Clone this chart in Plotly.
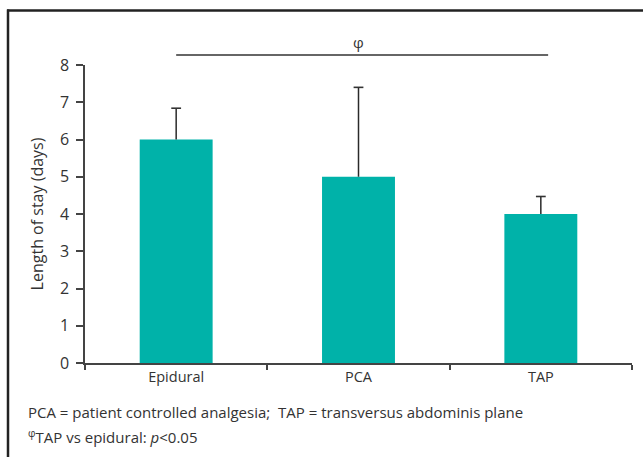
import plotly.graph_objects as go

categories = ["Epidural", "PCA", "TAP"]
values = [6.0, 5.0, 4.0]
errors_plus = [0.84, 2.4, 0.47]
y_ticks = [0, 1, 2, 3, 4, 5, 6, 7, 8]
sig_from = 0      # Epidural
sig_to = 2.04     # TAP (line extends slightly past)
sig_label = "φ"
y_title = "Length of stay (days)"
footnote1 = "PCA = patient controlled analgesia;  TAP = transversus abdominis plane"
footnote2 = "<sup>φ</sup>TAP vs epidural: <i>p</i>&lt;0.05"

TEAL = "#00B2A9"
TXT = "#333333"
AX = "#444444"
FONT = "Open Sans"

W, H = 643, 457
ML, MR, MT, MB = 85, 11, 65, 94
pw, ph = W - ML - MR, H - MT - MB

def px_x(px):
    return (px - ML) / pw

def px_y(py):
    return (H - MB - py) / ph

def cat_paper(v):
    return (v + 0.5) / len(categories)

fig = go.Figure()
fig.add_trace(go.Bar(
    x=categories, y=values, width=0.4,
    marker=dict(color=TEAL, line=dict(width=0)),
))

# error bar stems (upper only)
ex, ey = [], []
for c, v, e in zip(categories, values, errors_plus):
    ex += [c, c, None]
    ey += [v, v + e, None]
fig.add_trace(go.Scatter(
    x=ex, y=ey, mode="lines", line=dict(color="#2a2a2a", width=1.5),
    hoverinfo="skip",
))
# caps
fig.add_trace(go.Scatter(
    x=categories, y=[v + e for v, e in zip(values, errors_plus)],
    mode="markers",
    marker=dict(symbol="line-ew-open", size=7, color="#333333",
                line=dict(color="#333333", width=1.6)),
    hoverinfo="skip",
))

shapes = [
    # significance line
    dict(type="line", xref="paper", yref="paper",
         x0=cat_paper(sig_from), x1=cat_paper(sig_to),
         y0=px_y(55), y1=px_y(55), line=dict(color="#333333", width=1.3)),
    # frame: top and left
    dict(type="line", xref="paper", yref="paper",
         x0=px_x(7), x1=px_x(660), y0=px_y(10.5), y1=px_y(10.5),
         line=dict(color="#222222", width=2.5)),
    dict(type="line", xref="paper", yref="paper",
         x0=px_x(8), x1=px_x(8), y0=px_y(9.5), y1=px_y(470),
         line=dict(color="#222222", width=2.5)),
]

annotations = [
    dict(text=sig_label, xref="paper", yref="paper",
         x=cat_paper(1), y=px_y(42), showarrow=False,
         font=dict(size=15, color=TXT, family=FONT),
         xanchor="center", yanchor="middle"),
    dict(text=footnote1, xref="paper", yref="paper",
         x=px_x(26), y=px_y(412), showarrow=False,
         font=dict(size=15, color=TXT, family=FONT),
         xanchor="left", yanchor="middle"),
    dict(text=footnote2, xref="paper", yref="paper",
         x=px_x(26), y=px_y(436), showarrow=False,
         font=dict(size=15, color=TXT, family=FONT),
         xanchor="left", yanchor="middle"),
]

fig.update_layout(
    width=W, height=H,
    margin=dict(l=ML, r=MR, t=MT, b=MB, pad=0),
    paper_bgcolor="white", plot_bgcolor="white",
    showlegend=False,
    shapes=shapes, annotations=annotations,
    font=dict(family=FONT, color=TXT),
    xaxis=dict(
        range=[-0.5, 2.5], showgrid=False, zeroline=False,
        showline=True, linecolor=AX, linewidth=1.5,
        ticks="outside", ticklen=5, tickcolor=AX, tickwidth=1.5,
        tickson="boundaries",
        tickfont=dict(size=14.5, color=TXT, family=FONT),
    ),
    yaxis=dict(
        range=[0, 8], tickvals=y_ticks, showgrid=False, zeroline=False,
        showline=True, linecolor=AX, linewidth=1.5,
        ticks="outside", ticklen=7, tickcolor=AX, tickwidth=1.5,
        ticklabelstandoff=4,
        tickfont=dict(size=16, color=TXT, family=FONT),
        title=dict(text=y_title, font=dict(size=16, color=TXT, family=FONT),
                   standoff=12),
    ),
)

fig.write_html(
    "out.html",
    config={"displayModeBar": False},
    post_script="document.body.style.margin='0';document.body.style.overflow='hidden';",
)
